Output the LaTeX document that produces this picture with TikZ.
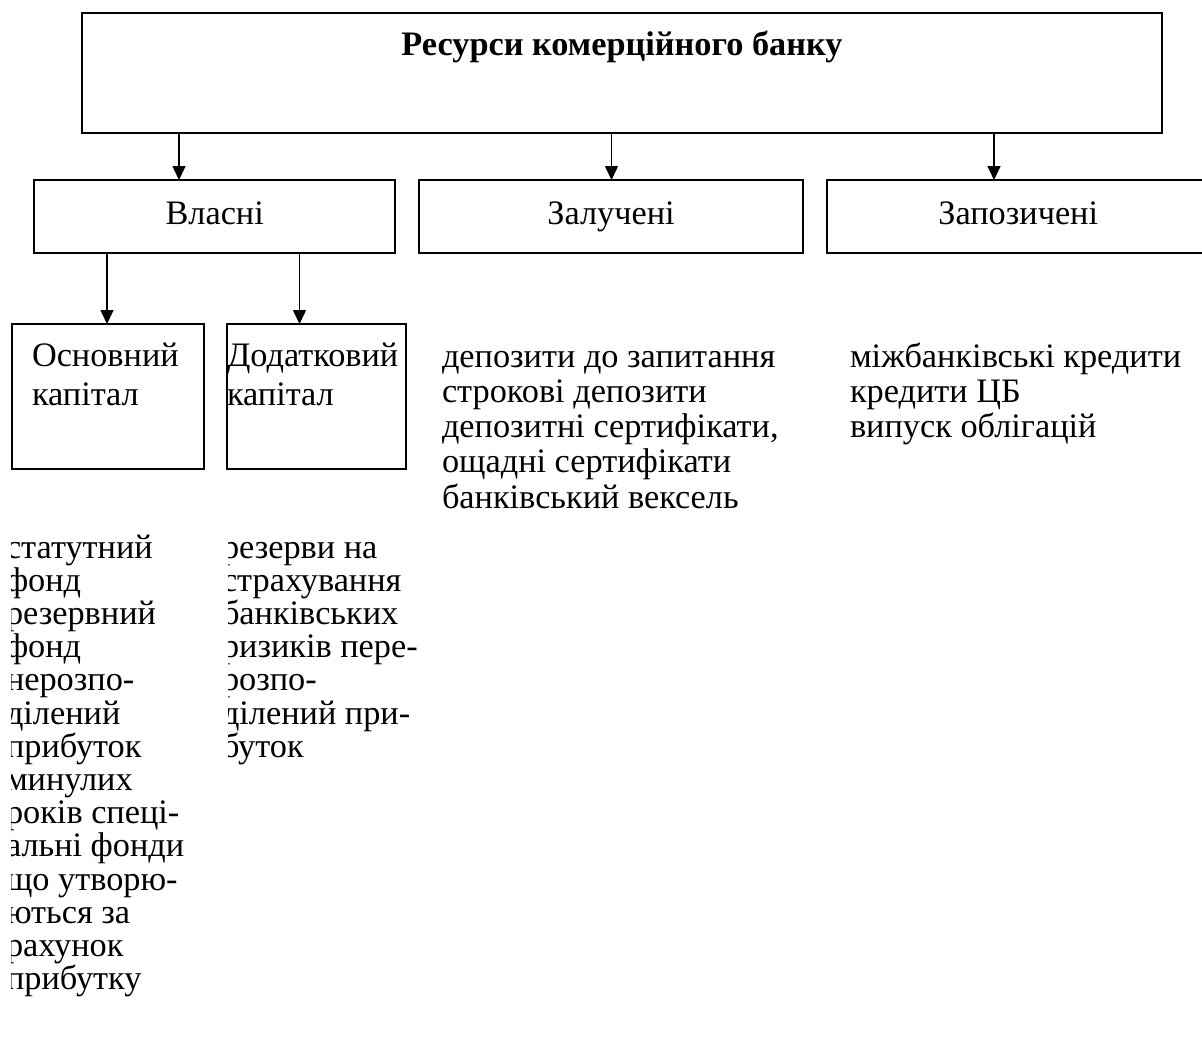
\documentclass[tikz,border=0pt]{standalone}
\usepackage{fontspec}
\setmainfont{Liberation Serif}
\usetikzlibrary{arrows.meta}

% text set at the size of the diagram (1 unit = 1pt)
\newcommand{\txt}{\fontsize{34.3}{35.3}\selectfont}
\newcommand{\lines}[2][35.3]{\vtop{\fontsize{34.3}{#1}\selectfont #2}}

\tikzset{
  boxshape/.style={draw, line width=2pt, rectangle, inner sep=0pt, outer sep=0pt},
  arr/.style={line width=1.5pt, -{Triangle[length=14pt,width=13pt]}},
  lbl/.style={inner sep=0pt, outer sep=0pt, anchor=base, font=\txt},
  para/.style={inner sep=0pt, outer sep=0pt, anchor=base west, align=left}
}

\begin{document}
\begin{tikzpicture}[x=1pt, y=-1pt]
\useasboundingbox (0,0) rectangle (1202,1041);

% top level
\node[boxshape, minimum width=1080pt, minimum height=120pt] (top) at (622,73) {};
\node[lbl, font=\txt\bfseries] (title) at (622,56) {Ресурси комерційного банку};

% second level
\node[boxshape, minimum width=360.6pt, minimum height=73pt] (vl) at (214.7,216.5) {};
\node[boxshape, minimum width=384pt, minimum height=73pt] (zl) at (611,216.5) {};
\node[boxshape, minimum width=383.5pt, minimum height=73pt] (zp) at (1018.25,216.5) {};
\node[lbl] (vlt) at (214.7,224) {Власні};
\node[lbl] (zlt) at (611,224) {Залучені};
\node[lbl] (zpt) at (1018.25,224) {Запозичені};

% arrows from the top box
\coordinate (a1) at (179,0);
\coordinate (a2) at (611.5,0);
\coordinate (a3) at (994,0);
\draw[arr] (top.south -| a1) -- (vl.north -| a1);
\draw[arr] (top.south -| a2) -- (zl.north -| a2);
\draw[arr] (top.south -| a3) -- (zp.north -| a3);

% third level: own capital
\node[boxshape, minimum width=192pt, minimum height=145pt] (osn) at (107.5,396.5) {};
\node[boxshape, minimum width=179pt, minimum height=145pt] (dod) at (316.5,396.5) {};
\coordinate (b1) at (107,0);
\coordinate (b2) at (299.5,0);
\draw[arr] (vl.south -| b1) -- (osn.north -| b1);
\draw[arr] (vl.south -| b2) -- (dod.north -| b2);

\node[para] (osnt) at (32,366) {\lines[39.5]{\hbox{Основний}\hbox{капітал}}};
\node[para] (dodt) at (227,366) {\lines[39.5]{\hbox{Додатковий}\hbox{капітал}}};

% lists of attracted and borrowed resources
\node[para] (zll) at (442,367) {\lines{%
  \hbox{депозити до запитання}
  \hbox{строкові депозити}
  \hbox{депозитні сертифікати,}
  \hbox{ощадні сертифікати}
  \hbox{банківський вексель}}};
\node[para] (zpl) at (850,367) {\lines{%
  \hbox{міжбанківські кредити}
  \hbox{кредити ЦБ}
  \hbox{випуск облігацій}}};

% components of own capital, cut at the frame edges
\begin{scope}
\clip (11.5,520) rectangle (215,1041);
\node[para] (osnl) at (6,558) {\lines[33.2]{%
  \hbox{статутний}
  \hbox{фонд}
  \hbox{резервний}
  \hbox{фонд}
  \hbox{нерозпо-}
  \hbox{ділений}
  \hbox{прибуток}
  \hbox{минулих}
  \hbox{років спеці-}
  \hbox{альні фонди}
  \hbox{що утворю-}
  \hbox{ються за}
  \hbox{рахунок}
  \hbox{прибутку}}};
\end{scope}
\begin{scope}
\clip (228,520) rectangle (430,1041);
\node[para] (dodl) at (222,558) {\lines[33.2]{%
  \hbox{резерви на}
  \hbox{страхування}
  \hbox{банківських}
  \hbox{ризиків пере-}
  \hbox{розпо-}
  \hbox{ділений при-}
  \hbox{буток}}};
\end{scope}
\end{tikzpicture}
\end{document}
